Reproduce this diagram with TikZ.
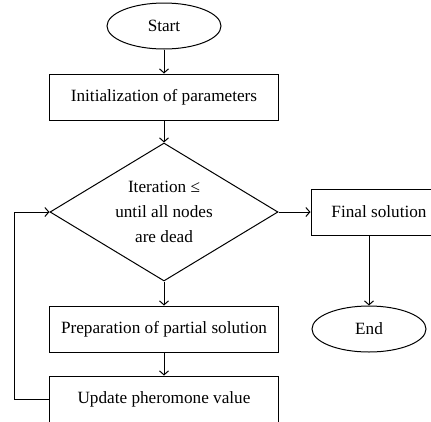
\documentclass[tikz,border=0pt]{standalone}
\usepackage{fontspec}
\setmainfont{Liberation Serif}
\usetikzlibrary{shapes.geometric,arrows.meta}

\begin{document}
\begin{tikzpicture}[x=1pt,y=-1pt,line width=1pt,
  every node/.style={font=\fontsize{17.2}{25}\selectfont},
  box/.style={draw,rectangle,minimum width=229pt,minimum height=46pt,inner sep=0pt},
  term/.style={draw,ellipse,minimum width=114pt,minimum height=46pt,inner sep=0pt},
  decision/.style={draw,diamond,aspect=1.65,minimum width=228pt,minimum height=138pt,inner sep=0pt,align=center},
  arr/.style={-{Straight Barb[length=4pt,width=9pt]}}]

\useasboundingbox (0,0) rectangle (431,421);

% Main column
\node[term] (start) at (164,26) {Start};
\node[box] (init) at (164,97) {Initialization of parameters};
\node[decision] (check) at (164,212) {Iteration ≤\\until all nodes\\are dead};
\node[box] (prep) at (164,329) {Preparation of partial solution};
\node[box] (update) at (164,399) {Update pheromone value};

% Exit branch
\node[box, minimum width=136pt] (final) at (379,212) {Final solution};
\node[term] (stop) at (369,329) {End};

% Connectors
\draw[arr] (start) -- (init);
\draw[arr] (init) -- (check);
\draw[arr] (check) -- (final);
\draw[arr] (check) -- (prep);
\draw[arr] (prep) -- (update);
\draw[arr] (final.south -| stop.north) -- (stop);

% Loop back
\draw[arr] (update.west) -- ++(-35,0) |- (check.west);
\end{tikzpicture}
\end{document}
